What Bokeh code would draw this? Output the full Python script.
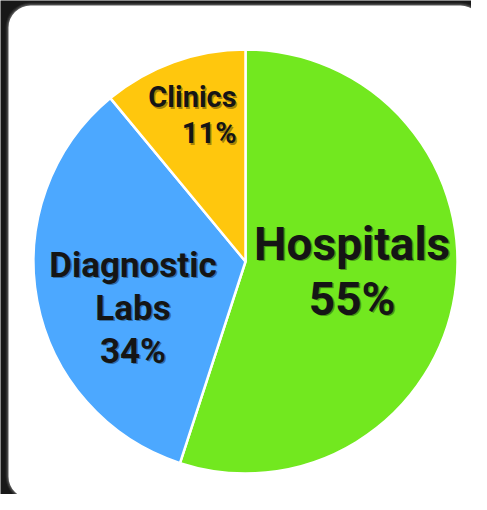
import math
from bokeh.plotting import figure
from bokeh.models import Range1d, ColumnDataSource
from bokeh.core.properties import value
from bokeh.embed import file_html
from bokeh.resources import INLINE

# ---- data ----
categories = ["Hospitals", "Diagnostic Labs", "Clinics"]
shares = [55, 34, 11]
colors = ["#72E81F", "#4CA8FF", "#FFC70D"]

# label styling / placement (relative to slice mid-angle)
label_sizes = [46, 35, 29]
label_line_gap = [55, 43, 36]
label_radius_frac = [0.505, 0.575, 0.69]
label_angle_tweak = [3.9, 11.8, -16.3]
label_align = ["center", "center", "right"]

W, H = 471, 494
p = figure(width=W, height=H, x_range=Range1d(0, W), y_range=Range1d(0, H),
           output_backend="svg", toolbar_location=None, min_border=0,
           background_fill_color="#181818", border_fill_color="#181818",
           outline_line_color=None)
p.axis.visible = False
p.grid.visible = False

# card with soft glow
card_x, card_y, card_w, card_h = 245, 242.5, 474, 493
for i, a in enumerate([0.10, 0.18, 0.30]):
    g = 3 - i
    p.rect(x=[card_x], y=[card_y], width=[card_w + 2 * g], height=[card_h + 2 * g],
           fill_color="#9a9a9a", fill_alpha=a, line_color=None, border_radius=22 + g)
p.rect(x=[card_x], y=[card_y], width=[card_w], height=[card_h], fill_color="white",
       line_color=None, border_radius=22)

cx, cy, R = 245, 233, 212
total = sum(shares)
starts, ends, mids = [], [], []
cum = 0.0
for v in shares:
    s = math.pi / 2 - 2 * math.pi * cum / total
    cum += v
    e = math.pi / 2 - 2 * math.pi * cum / total
    starts.append(s); ends.append(e); mids.append((s + e) / 2)

src = ColumnDataSource(dict(x=[cx] * 3, y=[cy] * 3, start=starts, end=ends,
                            color=colors, cat=categories))
p.wedge(x="x", y="y", radius=R, radius_units="screen", start_angle="start",
        end_angle="end", direction="clock", fill_color="color",
        line_color="white", line_width=2.5, source=src)

for i, (cat, v) in enumerate(zip(categories, shares)):
    lines = cat.split(" ") + [f"{v}%"]
    ang = mids[i] + math.radians(label_angle_tweak[i])
    r = R * label_radius_frac[i]
    ax = cx + r * math.cos(ang)
    ay = cy + r * math.sin(ang)
    n = len(lines)
    offs = [(k - (n - 1) / 2) * label_line_gap[i] for k in range(n)]
    fs = f"{label_sizes[i]}px"
    for dx, dy, col, alpha in [(1.5, 1.5, "#000000", 0.35), (0, 0, "#151515", 1.0)]:
        p.text(x=[ax] * n, y=[ay] * n, text=lines, x_offset=dx,
               y_offset=[o + dy for o in offs],
               text_font=value("Roboto"), text_font_style="bold",
               text_font_size=fs, text_color=col, text_alpha=alpha,
               text_align=label_align[i], text_baseline="middle")

open("out.html", "w").write(file_html(p, INLINE))
